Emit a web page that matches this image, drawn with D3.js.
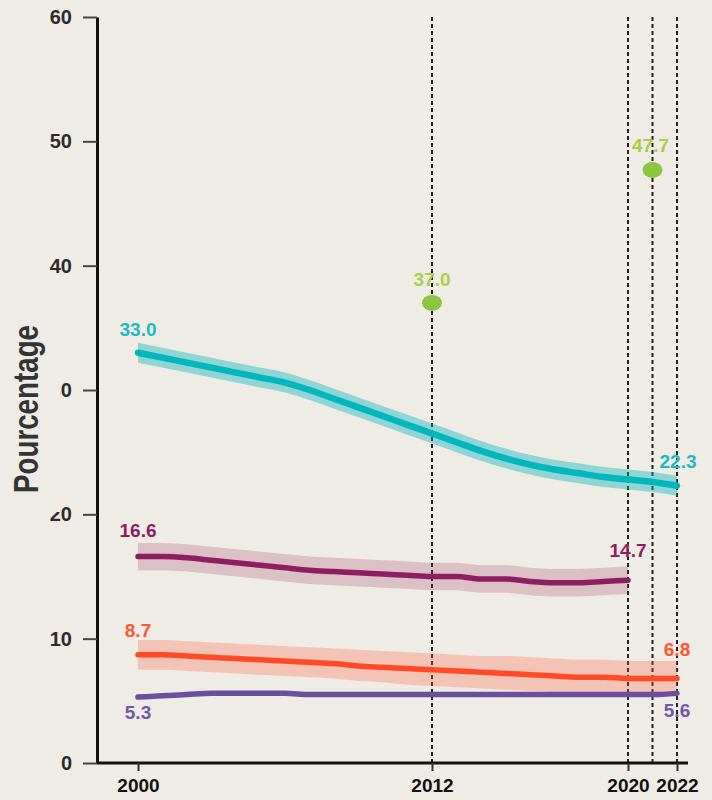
<!DOCTYPE html>
<html>
<head>
<meta charset="utf-8">
<script src="https://cdn.jsdelivr.net/npm/d3@7"></script>
<style>
  html, body { margin: 0; padding: 0; background: #EFEBE5; }
  svg { display: block; }
</style>
</head>
<body>
<svg id="chart" width="712" height="800"></svg>
<script>
// ---- data ----
const years = [2000,2001,2002,2003,2004,2005,2006,2007,2008,2009,2010,2011,2012,2013,2014,2015,2016,2017,2018,2019,2020,2021,2022];

const tealValues  = [33.0,32.6,32.2,31.8,31.4,31.0,30.6,30.0,29.3,28.6,27.9,27.2,26.5,25.8,25.1,24.5,24.0,23.6,23.3,23.0,22.8,22.6,22.3];
const tealLower   = [32.2,31.8,31.4,31.0,30.6,30.2,29.8,29.2,28.5,27.8,27.1,26.4,25.7,25.0,24.3,23.7,23.2,22.8,22.5,22.2,22.0,21.8,21.5];
const tealUpper   = [33.8,33.4,33.0,32.6,32.2,31.8,31.4,30.8,30.1,29.4,28.7,28.0,27.3,26.6,25.9,25.3,24.8,24.4,24.1,23.8,23.6,23.4,23.1];

const plumYears   = [2000,2001,2002,2003,2004,2005,2006,2007,2008,2009,2010,2011,2012,2013,2014,2015,2016,2017,2018,2019,2020];
const plumValues  = [16.6,16.6,16.5,16.3,16.1,15.9,15.7,15.5,15.4,15.3,15.2,15.1,15.0,15.0,14.8,14.8,14.6,14.5,14.5,14.6,14.7];
const plumLower   = [15.5,15.5,15.4,15.2,15.0,14.8,14.6,14.4,14.3,14.2,14.1,14.0,13.9,13.9,13.7,13.7,13.5,13.4,13.4,13.5,13.6];
const plumUpper   = [17.7,17.7,17.6,17.4,17.2,17.0,16.8,16.6,16.5,16.4,16.3,16.2,16.1,16.1,15.9,15.9,15.7,15.6,15.6,15.7,15.8];

const redValues   = [8.7,8.7,8.6,8.5,8.4,8.3,8.2,8.1,8.0,7.8,7.7,7.6,7.5,7.4,7.3,7.2,7.1,7.0,6.9,6.9,6.8,6.8,6.8];
const redLower    = [7.5,7.5,7.4,7.3,7.2,7.1,7.0,6.9,6.8,6.6,6.5,6.3,6.2,6.1,6.0,5.9,5.8,5.7,5.6,5.5,5.4,5.4,5.4];
const redUpper    = [9.9,9.9,9.8,9.7,9.6,9.5,9.4,9.3,9.2,9.1,9.0,8.9,8.8,8.7,8.6,8.6,8.5,8.4,8.3,8.3,8.2,8.2,8.2];

const violetValues = [5.3,5.4,5.5,5.6,5.6,5.6,5.6,5.5,5.5,5.5,5.5,5.5,5.5,5.5,5.5,5.5,5.5,5.5,5.5,5.5,5.5,5.5,5.6];

const greenYears  = [2012, 2021];
const greenValues = [37.0, 47.7];

const yTicks = [0,10,20,30,40,50,60];
const xTicks = [2000,2012,2020,2022];
const refYears = [2012,2020,2021,2022];
const yTitle = "Pourcentage";

// ---- layout ----
const svg = d3.select("#chart");
const bg = "#EFEBE5";
const x = d3.scaleLinear().domain([2000, 2022]).range([138, 677]);
const y = d3.scaleLinear().domain([0, 60]).range([763, 17]);
const curve = d3.curveMonotoneX;

// reference dashed lines
svg.append("g").selectAll("line").data(refYears).join("line")
  .attr("x1", d => x(d)).attr("x2", d => x(d))
  .attr("y1", y(60)).attr("y2", y(0))
  .attr("stroke", "#222").attr("stroke-width", 2)
  .attr("stroke-dasharray", "4,3");

function band(xs, lo, hi, color) {
  const data = xs.map((yr, i) => ({yr, lo: lo[i], hi: hi[i]}));
  svg.append("path").datum(data)
    .attr("fill", color)
    .attr("d", d3.area().curve(curve).x(d => x(d.yr)).y0(d => y(d.lo)).y1(d => y(d.hi)));
}
function line(xs, vals, color, w) {
  const data = xs.map((yr, i) => ({yr, v: vals[i]}));
  svg.append("path").datum(data)
    .attr("fill", "none").attr("stroke", color).attr("stroke-width", w)
    .attr("stroke-linecap", "round").attr("stroke-linejoin", "round")
    .attr("d", d3.line().curve(curve).x(d => x(d.yr)).y(d => y(d.v)));
}

band(years, tealLower, tealUpper, "rgba(0,181,184,0.40)");
band(plumYears, plumLower, plumUpper, "rgba(150,40,90,0.22)");
band(years, redLower, redUpper, "rgba(255,95,60,0.28)");

line(years, tealValues, "#00B8BC", 6.5);
line(plumYears, plumValues, "#8E1E63", 5.5);
line(years, redValues, "#FF4A26", 5.5);
line(years, violetValues, "#6B4E9E", 5.5);

// green points
svg.append("g").selectAll("ellipse").data(greenYears.map((yr, i) => ({yr, v: greenValues[i]}))).join("ellipse")
  .attr("cx", d => x(d.yr)).attr("cy", d => y(d.v))
  .attr("rx", 10).attr("ry", 8).attr("fill", "#8CC63F");

// axes
const yAxis = svg.append("g").attr("transform", `translate(97,0)`)
  .call(d3.axisLeft(y).tickValues(yTicks).tickSize(14).tickSizeOuter(0).tickPadding(11).tickFormat(d3.format("d")));
yAxis.select(".domain").attr("stroke", "#111").attr("stroke-width", 3);
yAxis.selectAll(".tick line").attr("stroke", "#444").attr("stroke-width", 2);
yAxis.selectAll(".tick text").attr("fill", "#2b2b2b")
  .style("font-family", "'Liberation Sans', Arial, sans-serif").style("font-size", "20px").style("font-weight", "bold");

const xAxis = svg.append("g").attr("transform", `translate(0,763)`)
  .call(d3.axisBottom(x).tickValues(xTicks).tickSize(8).tickSizeOuter(0).tickPadding(8).tickFormat(d3.format("d")));
xAxis.select(".domain").attr("d", `M97,0H688`).attr("stroke", "#111").attr("stroke-width", 3);
xAxis.selectAll(".tick line").attr("stroke", "#333").attr("stroke-width", 2);
xAxis.selectAll(".tick text").attr("fill", "#111")
  .style("font-family", "'Liberation Sans', Arial, sans-serif").style("font-size", "19px").style("font-weight", "bold");

// title backing (covers part of labels like the original)
svg.append("rect").attr("x", 0).attr("y", 318).attr("width", 60.5).attr("height", 194).attr("fill", bg);
svg.append("text")
  .attr("transform", `translate(38,409) rotate(-90)`)
  .attr("text-anchor", "middle")
  .attr("textLength", 168).attr("lengthAdjust", "spacingAndGlyphs")
  .style("font-family", "'Liberation Sans', Arial, sans-serif").style("font-size", "35px").style("font-weight", "bold")
  .attr("fill", "#333")
  .text(yTitle);

// value labels
const labels = [
  {yr: 2000, v: tealValues[0], dy: -17, c: "#1DB9C3"},
  {yr: 2022, v: tealValues[tealValues.length - 1], dy: -18, dx: 1, c: "#1DB9C3"},
  {yr: 2000, v: plumValues[0], dy: -20, c: "#8E1E63"},
  {yr: 2020, v: plumValues[plumValues.length - 1], dy: -23, c: "#8E1E63"},
  {yr: 2000, v: redValues[0], dy: -18, c: "#FF5634"},
  {yr: 2022, v: redValues[redValues.length - 1], dy: -22, c: "#FF5634"},
  {yr: 2000, v: violetValues[0], dy: 22, c: "#7157A6"},
  {yr: 2022, v: violetValues[violetValues.length - 1], dy: 24, c: "#7157A6"},
  {yr: greenYears[0], v: greenValues[0], dy: -17, c: "#A9CF45"},
  {yr: greenYears[1], v: greenValues[1], dy: -18, dx: -2, c: "#A9CF45"}
];
svg.append("g").selectAll("text").data(labels).join("text")
  .attr("x", d => x(d.yr) + (d.dx || 0))
  .attr("y", d => y(d.v) + d.dy)
  .attr("text-anchor", "middle")
  .attr("fill", d => d.c)
  .style("font-family", "'Liberation Sans', Arial, sans-serif").style("font-size", "19px").style("font-weight", "bold")
  .text(d => d.v.toFixed(1));
</script>
</body>
</html>
